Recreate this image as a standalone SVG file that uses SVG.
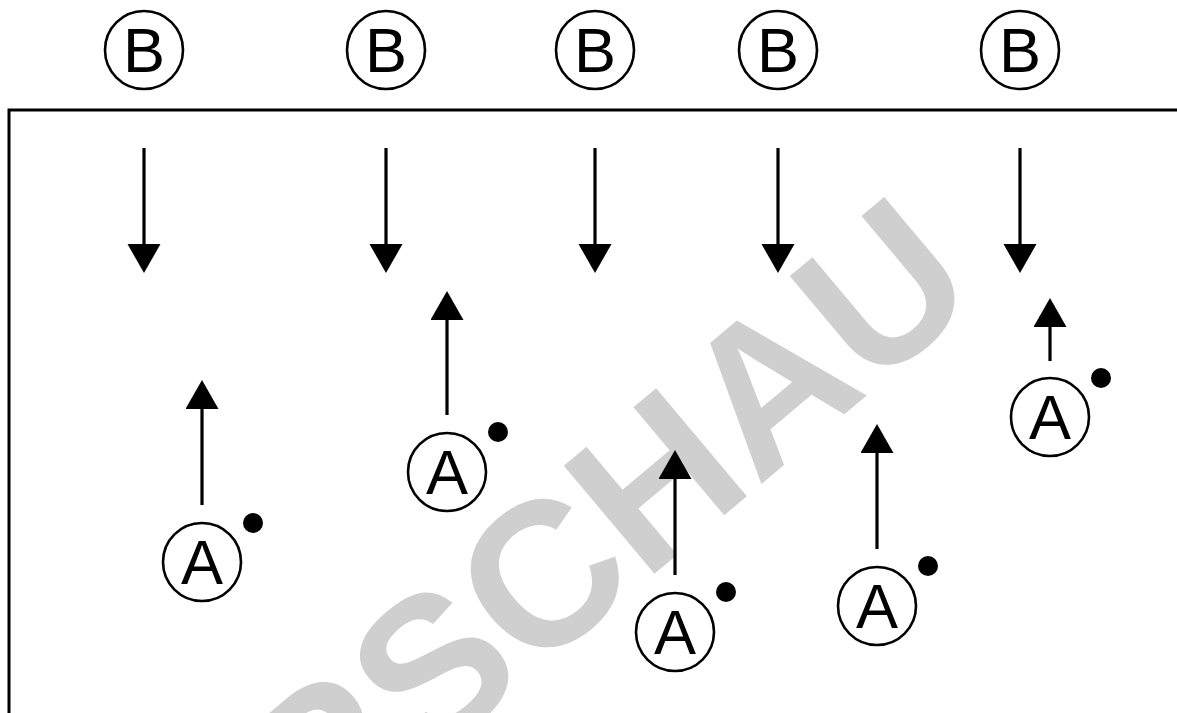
<svg xmlns="http://www.w3.org/2000/svg" width="1177" height="713" viewBox="0 0 1177 713">
<style>
.ring{fill:#fff;stroke:#000;stroke-width:2.6}
.lbl{font-family:"Liberation Sans",Arial,sans-serif;font-size:63px;fill:#000;text-anchor:middle}
.dot{fill:#000}
.arr{stroke:#000;stroke-width:3.2;fill:none;marker-end:url(#head)}
.wm{font-family:"Liberation Sans",Arial,sans-serif;font-weight:bold;font-size:205px;fill:#cfcfcf;text-anchor:middle}
</style>
<defs>
<marker id="head" markerUnits="userSpaceOnUse" markerWidth="30" markerHeight="34" refX="0" refY="16.5" orient="auto" viewBox="0 0 30 34">
<path d="M0,0 L29,16.5 L0,33 z" fill="#000"/>
</marker>
</defs>
<rect width="1177" height="713" fill="#fff"/>
<text class="wm" x="535" y="674" transform="rotate(-40 535 674)">VORSCHAU</text>
<path d="M9,713 V110 H1177" fill="none" stroke="#000" stroke-width="3"/>
<g id="connectors">
<line class="arr" x1="144" y1="148" x2="144" y2="244"/>
<line class="arr" x1="386" y1="148" x2="386" y2="244"/>
<line class="arr" x1="595" y1="148" x2="595" y2="244"/>
<line class="arr" x1="778" y1="148" x2="778" y2="244"/>
<line class="arr" x1="1020" y1="148" x2="1020" y2="244"/>
<line class="arr" x1="202" y1="505" x2="202" y2="409"/>
<line class="arr" x1="447" y1="415" x2="447" y2="320"/>
<line class="arr" x1="675" y1="575" x2="675" y2="479"/>
<line class="arr" x1="877" y1="549" x2="877" y2="453"/>
<line class="arr" x1="1050" y1="361" x2="1050" y2="327"/>
</g>
<g id="B1"><circle class="ring" cx="144" cy="50" r="39"/><text class="lbl" x="144" y="72">B</text></g>
<g id="B2"><circle class="ring" cx="386" cy="50" r="39"/><text class="lbl" x="386" y="72">B</text></g>
<g id="B3"><circle class="ring" cx="595" cy="50" r="39"/><text class="lbl" x="595" y="72">B</text></g>
<g id="B4"><circle class="ring" cx="778" cy="50" r="39"/><text class="lbl" x="778" y="72">B</text></g>
<g id="B5"><circle class="ring" cx="1020" cy="50" r="39"/><text class="lbl" x="1020" y="72">B</text></g>
<g id="A1"><circle class="ring" cx="202" cy="562" r="39"/><text class="lbl" x="202" y="584">A</text><circle class="dot" cx="253" cy="523" r="10"/></g>
<g id="A2"><circle class="ring" cx="447" cy="472" r="39"/><text class="lbl" x="447" y="494">A</text><circle class="dot" cx="498" cy="432" r="10"/></g>
<g id="A3"><circle class="ring" cx="675" cy="632" r="39"/><text class="lbl" x="675" y="654">A</text><circle class="dot" cx="726" cy="592" r="10"/></g>
<g id="A4"><circle class="ring" cx="877" cy="606" r="39"/><text class="lbl" x="877" y="628">A</text><circle class="dot" cx="928" cy="566" r="10"/></g>
<g id="A5"><circle class="ring" cx="1050" cy="417" r="39"/><text class="lbl" x="1050" y="439">A</text><circle class="dot" cx="1101" cy="378" r="10"/></g>
</svg>
